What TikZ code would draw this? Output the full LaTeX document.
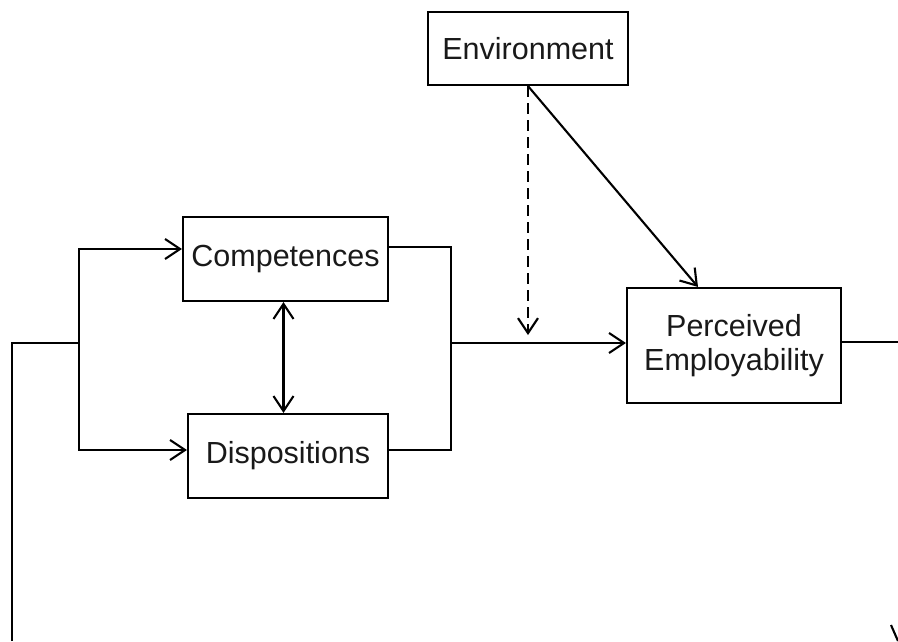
\documentclass[tikz,border=0pt]{standalone}
\usepackage{fontspec}
\setmainfont{Liberation Sans}
\usetikzlibrary{arrows.meta}
\begin{document}
\begin{tikzpicture}[x=1pt,y=-1pt,line width=2.1pt,
  >={Straight Barb[length=15pt,width=20pt,line width=2.1pt]},
  box/.style={draw,rectangle,inner sep=0pt,align=center,
    font=\fontsize{30.5}{34}\selectfont,text=black!90}]
\useasboundingbox (0,0) rectangle (898,641);
\node[box,minimum width=200pt,minimum height=73pt] (env) at (528,48.5) {Environment};
\node[box,minimum width=205pt,minimum height=84pt] (comp) at (285.5,259) {Competences};
\node[box,minimum width=200pt,minimum height=84pt] (disp) at (288,456) {Dispositions};
\node[box,minimum width=214pt,minimum height=115pt] (pe) at (734,345.5) {Perceived\\Employability};
\coordinate (start) at (12,641);
\coordinate (fork) at (79,343);
\coordinate (join) at (451,343);
\coordinate (mod) at (528,335);
\coordinate (out) at (898,342);
\draw (start) |- (fork);
\draw[->] (fork) |- ([yshift=10pt]comp.west);
\draw[->] (fork) |- ([yshift=6pt]disp.west);
\draw[<->] ([xshift=-2pt]comp.south) -- ([xshift=-2pt]comp.south |- disp.north);
\draw ([yshift=12pt]comp.east) -| (join);
\draw ([yshift=6pt]disp.east) -| (join);
\draw[->] (join) -- (join -| pe.west);
\draw[->,dash pattern=on 11pt off 6pt] (env.south) -- (mod);
\draw[->] (env.south) -- ([xshift=-36pt]pe.north);
\draw (pe.east |- out) -- (out);
\draw (891,625) -- (898,641);
\end{tikzpicture}
\end{document}
